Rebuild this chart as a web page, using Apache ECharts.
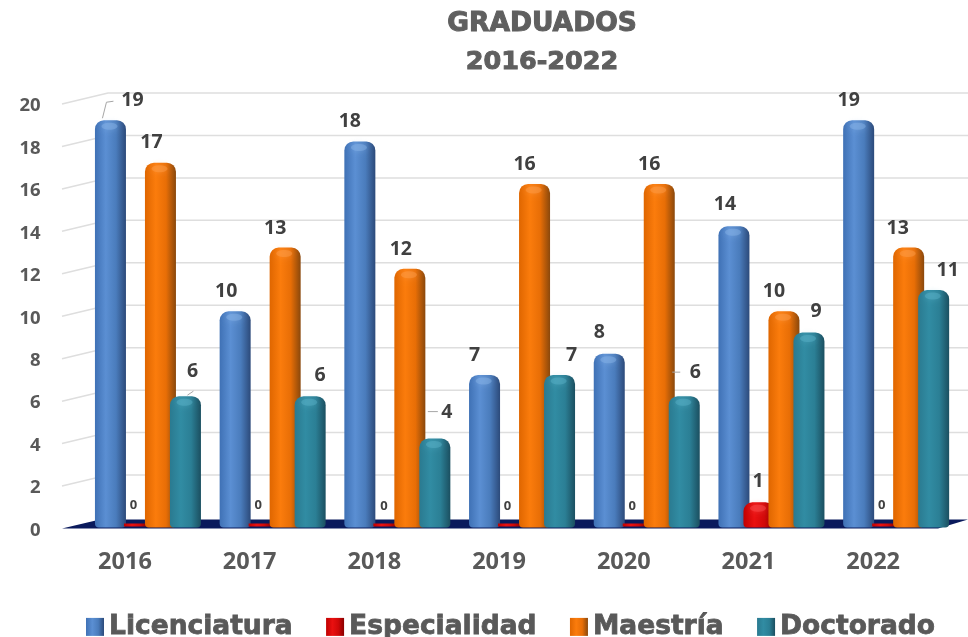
<!DOCTYPE html>
<html>
<head>
<meta charset="utf-8">
<style>
  html, body { margin: 0; padding: 0; background: #fff; }
  #main { width: 968px; height: 637px; }
</style>
<script src="https://cdn.jsdelivr.net/npm/echarts@6/dist/echarts.min.js"></script>
</head>
<body>
<div id="main"></div>
<script>
const years = ['2016', '2017', '2018', '2019', '2020', '2021', '2022'];
const licenciatura = [19, 10, 18, 7, 8, 14, 19];
const especialidad = [0, 0, 0, 0, 0, 1, 0];
const maestria = [17, 13, 12, 16, 16, 10, 13];
const doctorado = [6, 6, 4, 7, 6, 9, 11];
const yTicks = [0, 2, 4, 6, 8, 10, 12, 14, 16, 18, 20];

// label offsets from the top centre of each bar, px
const licShift = [[22, -20], [-9, -20], [-10, -20], [-10, -19], [-10, -21], [-9, -22], [-10, -20]];
const espShift = [[-2, -18], [-2, -18], [-1, -17], [-2, -17], [-2, -17], [-1, -21], [-2, -18]];
const maeShift = [[-9, -20], [-10, -19], [-9, -19], [-10, -19], [-10, -19], [-10, -20], [-11, -19]];
const docShift = [[7, -25], [10, -21], [12, -26], [12, -19], [11, -24], [7, -21], [14, -20]];

const BAR_W = 31;
const BAR_STEP = 25;
const BASE_DROP = 4;

const chart = echarts.init(document.getElementById('main'));

function cylinder(edgeL, mid, midDark, edgeR) {
  return new echarts.graphic.LinearGradient(0, 0, 1, 0, [
    {offset: 0, color: edgeL},
    {offset: 0.35, color: mid},
    {offset: 0.68, color: midDark},
    {offset: 1, color: edgeR}
  ]);
}

function barRender(idx, fill, capColor, shifts, fontSize) {
  return function(params, api) {
    const cat = api.value(0);
    const val = api.value(1);
    const top = api.coord([cat, val]);
    const zero = api.coord([cat, 0]);
    const left = top[0] + (idx - 1.5) * BAR_STEP - BAR_W / 2;
    const h = zero[1] - top[1] + BASE_DROP;
    const shift = shifts[params.dataIndex];
    const children = [];
    if (val > 0) {
      children.push({
        type: 'rect',
        shape: {x: left, y: top[1], width: BAR_W, height: h, r: [9, 9, 4, 4]},
        style: {fill: fill}
      });
      children.push({
        type: 'ellipse',
        shape: {cx: left + BAR_W * 0.47, cy: top[1] + 6, rx: 8, ry: 3.5},
        style: {fill: capColor, opacity: 0.4, shadowBlur: 6, shadowColor: capColor}
      });
    } else {
      // empty category still leaves a thin sliver on the floor
      children.push({
        type: 'rect',
        shape: {x: left + 4, y: zero[1], width: BAR_W - 8, height: BASE_DROP - 1},
        style: {fill: fill}
      });
    }
    children.push({
      type: 'text',
      z2: 10,
      style: {
        text: String(val),
        x: top[0] + (idx - 1.5) * BAR_STEP + shift[0],
        y: top[1] + shift[1],
        align: 'center',
        verticalAlign: 'middle',
        fill: '#404040',
        font: 'bold ' + fontSize + 'px "Open Sans", sans-serif'
      }
    });
    return {type: 'group', children: children};
  };
}

function barSeries(name, values, idx, fill, capColor, shifts) {
  return {
    name: name,
    type: 'custom',
    z: 5 + idx,
    itemStyle: {color: fill},
    encode: {x: 0, y: 1},
    data: values.map((v, i) => [i, v]),
    renderItem: (params, api) => {
      const size = api.value(1) === 0 ? 13 : 19.5;
      return barRender(idx, fill, capColor, shifts, size)(params, api);
    }
  };
}

// back wall lines with their slanted part on the left side
const wallSeries = {
  type: 'custom',
  silent: true,
  z: 1,
  data: yTicks.filter(v => v > 0).map(v => [0, v]),
  encode: {x: 0, y: 1},
  renderItem: (params, api) => {
    const y = api.coord([0, api.value(1)])[1];
    return {
      type: 'polyline',
      shape: {points: [[62, y + 5], [108, y - 6], [968, y - 6]]},
      style: {stroke: '#dedede', lineWidth: 1.5, fill: null}
    };
  }
};

const floorSeries = {
  type: 'custom',
  silent: true,
  z: 2,
  data: [[0, 0]],
  encode: {x: 0, y: 1},
  renderItem: (params, api) => {
    const y = api.coord([0, 0])[1];
    return {
      type: 'polygon',
      shape: {points: [[62, y + 5], [100, y - 4], [968, y - 4], [938, y + 5]]},
      style: {fill: '#0a1a5c'}
    };
  }
};

// thin leader lines from a bar to its shifted label
const leaderData = [[0, 19, 0], [2, 4, 3], [4, 6, 3], [0, 6, 3]];
const leaderPts = [
  [[-8, -2], [-4, -18], [3, -19]],
  [[-7, -27], [3, -27]],
  [[-12, -24], [-4, -24]],
  [[2, -1], [8, -5]]
];
const leaderSeries = {
  type: 'custom',
  silent: true,
  z: 12,
  data: leaderData,
  encode: {x: 0, y: 1},
  renderItem: (params, api) => {
    const p = api.coord([api.value(0), api.value(1)]);
    const cx = p[0] + (api.value(2) - 1.5) * BAR_STEP;
    return {
      type: 'polyline',
      shape: {points: leaderPts[params.dataIndex].map(d => [cx + d[0], p[1] + d[1]])},
      style: {stroke: '#a6a6a6', lineWidth: 1, fill: null}
    };
  }
};

chart.setOption({
  animation: false,
  backgroundColor: '#fff',
  title: {
    text: '{a|GRADUADOS}\n{b|2016-2022}',
    left: 537,
    top: 0,
    textAlign: 'center',
    textStyle: {
      rich: {
        a: {fontFamily: 'DejaVu Sans', fontWeight: 'bold', fontSize: 26.5, lineHeight: 38, color: '#5f5f5f', textBorderColor: '#5f5f5f', textBorderWidth: 1},
        b: {fontFamily: 'DejaVu Sans', fontWeight: 'bold', fontSize: 25.5, lineHeight: 38, color: '#5f5f5f', textBorderColor: '#5f5f5f', textBorderWidth: 1}
      }
    }
  },
  legend: {
    left: 81,
    top: 608,
    itemWidth: 18,
    itemHeight: 18,
    itemGap: 33,
    icon: 'rect',
    data: ['Licenciatura', 'Especialidad', 'Maestría', 'Doctorado'],
    textStyle: {
      fontFamily: 'DejaVu Sans',
      fontWeight: 'bold',
      fontSize: 26.5,
      color: '#595959',
      textBorderColor: '#595959',
      textBorderWidth: 0.8
    }
  },
  grid: {left: 85.6, top: 99, width: 872.9, height: 424.5},
  xAxis: {
    type: 'category',
    data: years,
    axisLine: {show: false},
    axisTick: {show: false},
    axisLabel: {
      margin: 27,
      padding: [0, 46, 0, 0],
      color: '#595959',
      fontFamily: 'Open Sans',
      fontWeight: 'bold',
      fontSize: 23.5
    }
  },
  yAxis: {
    type: 'value',
    min: 0,
    max: 20,
    interval: 2,
    axisLine: {show: false},
    axisTick: {show: false},
    splitLine: {show: false},
    axisLabel: {
      margin: 45,
      verticalAlign: 'top',
      lineHeight: 14,
      color: '#595959',
      fontFamily: 'Open Sans',
      fontWeight: 'bold',
      fontSize: 18.5
    }
  },
  series: [
    wallSeries,
    floorSeries,
    barSeries('Licenciatura', licenciatura, 0, cylinder('#3f71b5', '#5b8fd3', '#4a7cbc', '#2c4a7a'), '#8fb8ec', licShift),
    barSeries('Especialidad', especialidad, 1, cylinder('#c00000', '#ea1010', '#d00808', '#8a0000'), '#ff5a5a', espShift),
    barSeries('Maestría', maestria, 2, cylinder('#df6600', '#fb7c0c', '#e86e06', '#8a480c'), '#ffa352', maeShift),
    barSeries('Doctorado', doctorado, 3, cylinder('#2a7a90', '#318ca3', '#2b7f95', '#1b4f60'), '#5fb6cc', docShift),
    leaderSeries
  ]
});
</script>
</body>
</html>
